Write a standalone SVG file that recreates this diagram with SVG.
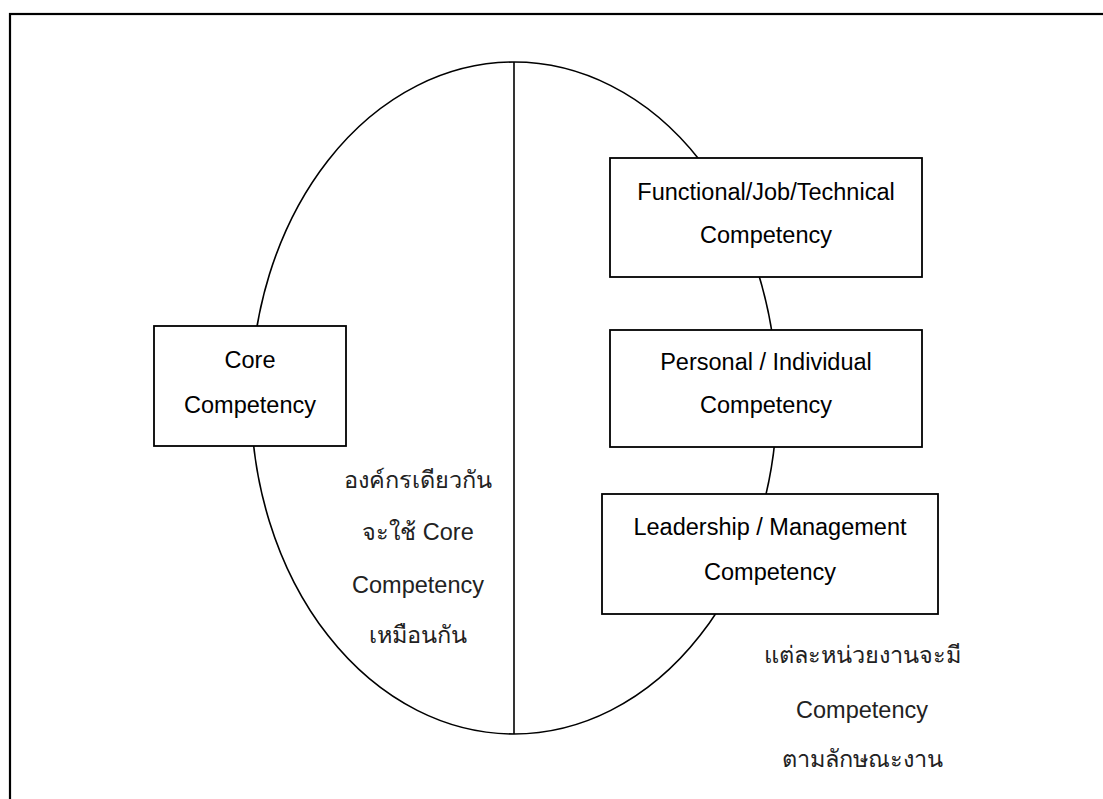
<svg xmlns="http://www.w3.org/2000/svg" width="1103" height="799" viewBox="0 0 1103 799">
  <style>
    .frame { fill: none; stroke: #000; stroke-width: 2.2; }
    .line { fill: none; stroke: #000; stroke-width: 1.6; }
    .box { fill: #fff; stroke: #000; stroke-width: 1.8; }
    .label { font-family: "Liberation Sans", Arial, sans-serif; font-size: 23.5px; fill: #000; text-anchor: middle; }
    .note { font-family: "Liberation Sans", "Noto Sans", sans-serif; font-size: 23.5px; fill: #222; text-anchor: middle; }
  </style>
  <rect width="1103" height="799" fill="#fff"/>
  <!-- page frame, open to the right and bottom -->
  <rect class="frame" x="10" y="14" width="1110" height="800"/>

  <g id="connectors">
    <ellipse class="line" cx="514" cy="398" rx="263" ry="336"/>
    <line class="line" x1="514" y1="62" x2="514" y2="734"/>
  </g>

  <g id="core">
    <rect class="box" x="154" y="326" width="192" height="120"/>
    <text class="label" x="250" y="368">Core</text>
    <text class="label" x="250" y="413">Competency</text>
  </g>

  <g id="functional">
    <rect class="box" x="610" y="158" width="312" height="119"/>
    <text class="label" x="766" y="200">Functional/Job/Technical</text>
    <text class="label" x="766" y="243">Competency</text>
  </g>

  <g id="personal">
    <rect class="box" x="610" y="330" width="312" height="117"/>
    <text class="label" x="766" y="370">Personal / Individual</text>
    <text class="label" x="766" y="413">Competency</text>
  </g>

  <g id="leadership">
    <rect class="box" x="602" y="494" width="336" height="120"/>
    <text class="label" x="770" y="535">Leadership / Management</text>
    <text class="label" x="770" y="580">Competency</text>
  </g>

  <g id="core-note">
    <text class="note" x="418" y="488">องค์กรเดียวกัน</text>
    <text class="note" x="418" y="540">จะใช้ Core</text>
    <text class="note" x="418" y="593">Competency</text>
    <text class="note" x="418" y="643">เหมือนกัน</text>
  </g>

  <g id="unit-note">
    <text class="note" x="862" y="663">แต่ละหน่วยงานจะมี</text>
    <text class="note" x="862" y="718">Competency</text>
    <text class="note" x="862" y="767">ตามลักษณะงาน</text>
  </g>
</svg>
